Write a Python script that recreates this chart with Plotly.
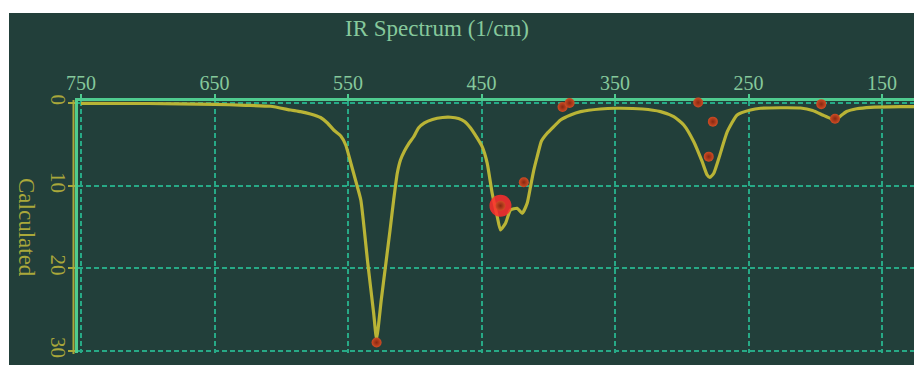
import plotly.graph_objects as go

# ---- data ----
wavenumber = [750, 700, 650, 626.8, 608, 593, 585.6, 578.1, 570.6, 565.4, 560.7,
              555.4, 551.7, 547.9, 544.2, 540.4, 535.2, 530.8, 528.6, 525.1, 521.6,
              518.5, 515.8, 513.1, 510.7, 507.7, 504.7, 500.9, 497.2, 492.7, 486.7,
              479.2, 473.2, 467.2, 462.7, 458.2, 455.2, 449.5, 445.7, 442.0, 438.2,
              435.8, 432.0, 428.3, 423.3, 419.5, 415.8, 413.3, 410.8, 408.3, 405.1,
              401.3, 397.6, 390.8, 383.3, 375.8, 361.0, 349.6, 329.3, 315.9, 306.0,
              298.5, 291.0, 284.7, 281.0, 279.0, 276.0, 272.2, 265.9, 258.5, 248.5,
              241.0, 226.0, 211.0, 202.0, 194.5, 188.5, 184.7, 181.0, 176.5, 169.0,
              158.6, 136.1, 125.6]
calculated = [0.04, 0.06, 0.16, 0.28, 0.4, 0.85, 1.05, 1.33, 1.76, 2.42, 3.27,
              4.0, 5.09, 7.27, 9.45, 11.75, 19.38, 25.43, 28.58, 23.86, 19.38,
              15.38, 11.75, 8.51, 6.9, 5.81, 4.97, 4.12, 3.03, 2.42, 2.0,
              1.76, 1.73, 1.88, 2.24, 3.03, 3.75, 5.29, 7.30, 10.94, 13.77,
              15.38, 14.57, 12.96, 12.75, 13.36, 12.15, 10.14, 8.11, 6.50, 4.60,
              3.75, 3.15, 2.06, 1.45, 1.05, 0.73, 0.64, 0.73, 1.05, 1.66,
              2.66, 4.69, 7.11, 8.72, 9.02, 8.51, 6.70, 3.48, 1.45, 0.85,
              0.64, 0.58, 0.61, 0.91, 1.45, 1.88, 2.06, 1.57, 1.03, 0.70,
              0.52, 0.45, 0.45]

peak_wavenumber = [528.6, 435.8, 418.3, 389.3, 384.0, 287.7, 276.7, 279.8, 195.5, 185.2]
peak_intensity = [29.0, 12.45, 9.6, 0.48, 0.0, -0.05, 2.26, 6.5, 0.14, 1.9]
highlight_index = 1

x_ticks = [750, 650, 550, 450, 350, 250, 150]
y_ticks = [0, 10, 20, 30]

# ---- styling ----
W, H = 914, 366
ML, MR, MT, MB = 78, 0, 101, 13
PW, PH = W - ML - MR, H - MT - MB
BG = "#223f3a"
GREEN = "#4fcb8f"
GRID = "#27a986"
OLIVE = "#aaa83a"
CURVE = "#b9b436"
XLABEL = "#86c99c"
FONT = "Liberation Serif"


def px_x(px):
    return (px - ML) / PW


def px_y(py):
    return (H - MB - py) / PH


fig = go.Figure()

fig.add_trace(go.Scatter(
    x=wavenumber, y=calculated, mode="lines",
    line=dict(color=CURVE, width=3.2, shape="spline", smoothing=0.5),
    hoverinfo="skip", showlegend=False,
))

fig.add_trace(go.Scatter(
    x=[peak_wavenumber[highlight_index]], y=[peak_intensity[highlight_index]],
    mode="markers", cliponaxis=False,
    marker=dict(size=22, color="rgba(255,45,45,0.85)", line=dict(width=0)),
    hoverinfo="skip", showlegend=False,
))

fig.add_trace(go.Scatter(
    x=peak_wavenumber, y=peak_intensity, mode="markers", cliponaxis=False,
    marker=dict(size=10, color="#d04c24", line=dict(width=0),
                gradient=dict(type="radial", color="#862812")),
    showlegend=False,
))

fig.update_layout(
    width=W, height=H,
    margin=dict(l=ML, r=MR, t=MT, b=MB, pad=0),
    paper_bgcolor=BG, plot_bgcolor=BG,
    font=dict(family=FONT),
    xaxis=dict(
        range=[752.25, 752.25 - PW / 1.335], side="top",
        tickvals=x_ticks, ticktext=[str(v) for v in x_ticks],
        tickfont=dict(family=FONT, size=20, color=XLABEL),
        ticks="outside", ticklen=4, tickwidth=2, tickcolor=GREEN,
        ticklabelstandoff=-4,
        showline=True, linecolor=GREEN, linewidth=3,
        showgrid=True, gridcolor=GRID, gridwidth=1.5, griddash="5px,3px",
        zeroline=False, layer="below traces",
    ),
    yaxis=dict(
        range=[30.28, -0.24],
        tickvals=y_ticks, ticktext=[str(v) for v in y_ticks],
        tickangle=90,
        tickfont=dict(family=FONT, size=21, color=OLIVE),
        ticks="outside", ticklen=7, tickwidth=1.5, tickcolor=OLIVE,
        ticklabelstandoff=-8,
        showline=True, linecolor=GREEN, linewidth=3,
        showgrid=True, gridcolor=GRID, gridwidth=1.5, griddash="5px,3px",
        zeroline=False, layer="below traces",
    ),
    shapes=[
        dict(type="line", xref="paper", yref="paper",
             x0=px_x(73.5), x1=px_x(73.5), y0=px_y(100), y1=px_y(354),
             line=dict(color=OLIVE, width=2), layer="below"),
        dict(type="rect", xref="paper", yref="paper",
             x0=px_x(0), x1=px_x(9), y0=px_y(H), y1=px_y(0),
             fillcolor="white", line=dict(width=0), layer="above"),
        dict(type="rect", xref="paper", yref="paper",
             x0=px_x(0), x1=px_x(W), y0=px_y(13), y1=px_y(0),
             fillcolor="white", line=dict(width=0), layer="above"),
        dict(type="rect", xref="paper", yref="paper",
             x0=px_x(0), x1=px_x(W), y0=px_y(H), y1=px_y(365),
             fillcolor="white", line=dict(width=0), layer="above"),
    ],
    annotations=[
        dict(text="IR Spectrum (1/cm)", xref="paper", yref="paper",
             x=px_x(437), y=px_y(29), xanchor="center", yanchor="middle",
             showarrow=False, font=dict(family=FONT, size=23, color=XLABEL)),
        dict(text="Calculated", xref="paper", yref="paper",
             x=px_x(27), y=px_y(227), xanchor="center", yanchor="middle",
             textangle=90, showarrow=False,
             font=dict(family=FONT, size=23, color=OLIVE)),
    ],
)

fig.write_html(
    "out.html",
    config={"displayModeBar": False},
    post_script="document.body.style.margin='0';document.body.style.overflow='hidden';",
)
